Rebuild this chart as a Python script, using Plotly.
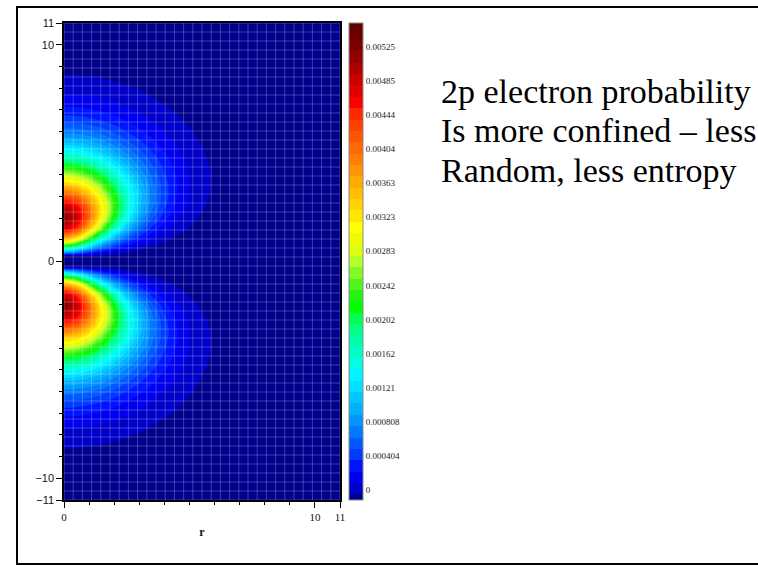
import numpy as np
import plotly.graph_objects as go

# ---------------- data ----------------
# radial coordinate r (horizontal axis) and height z (vertical axis, upper half)
r_values = [0, 0.5, 1, 1.5, 2, 2.5, 3, 3.5, 4, 4.5, 5, 5.5, 6, 6.5, 7, 8, 11]
z_upper = [0, 0.25, 0.5, 1, 1.5, 2, 2.5, 3, 3.5, 4, 4.5, 5, 5.5, 6, 6.5,
           7, 7.5, 8, 8.5, 9, 9.5, 10, 11]
# probability density, units of 1e-5, one row per z (upper half, z >= 0)
density_upper_e5 = [
    [0, 0, 0, 0, 0, 0, 0, 0, 0, 0, 0, 0, 0, 0, 0, 0, 0],
    [8, 8, 8, 8, 7, 5, 3.1, 1.9, 1.1, 0.7, 0.4, 0.25, 0.15, 0.1, 0.05, 0, 0],
    [150.9, 122.7, 81.3, 51.2, 31.7, 19.4, 11.9, 7.3, 4.4, 2.7, 1.6, 1.0, 0.6, 0.4, 0.2, 0.1, 0],
    [366, 325, 242, 164, 106, 67.4, 42.1, 26.1, 16.1, 9.9, 6.1, 3.7, 2.3, 1.4, 0.8, 0.3, 0],
    [500, 461, 369, 268, 184, 121, 78.2, 49.7, 31.2, 19.5, 12.1, 7.5, 4.6, 2.8, 1.7, 0.7, 0],
    [538, 507, 425, 327, 235, 162, 108, 70.7, 45.5, 28.9, 18.2, 11.4, 7.1, 4.4, 2.7, 1.0, 0.1],
    [511, 486, 421, 337, 253, 181, 125, 84.3, 55.6, 36.1, 23.2, 14.8, 9.4, 5.9, 3.7, 1.4, 0.1],
    [446, 428, 379, 313, 243, 180, 129, 89.1, 60.3, 40.1, 26.3, 17.0, 10.9, 7.0, 4.4, 1.7, 0.1],
    [368, 355, 320, 271, 216, 165, 121, 86.4, 59.9, 40.7, 27.2, 18.0, 11.7, 7.6, 4.9, 2.0, 0.1],
    [292, 283, 258, 222, 182, 142, 107, 78.3, 55.6, 38.7, 26.4, 17.7, 11.8, 7.7, 5.0, 2.1, 0.1],
    [224, 218, 201, 176, 146, 117, 90.3, 67.4, 48.9, 34.7, 24.1, 16.5, 11.1, 7.4, 4.9, 2.1, 0.1],
    [168, 164, 152, 135, 114, 92.9, 73.0, 55.6, 41.2, 29.8, 21.1, 14.7, 10.1, 6.8, 4.6, 2.0, 0.1],
    [123, 120, 112, 101, 86.5, 71.6, 57.2, 44.4, 33.5, 24.7, 17.8, 12.6, 8.8, 6.0, 4.1, 1.8, 0.1],
    [88.8, 87.0, 81.7, 73.8, 64.2, 53.9, 43.7, 34.5, 26.4, 19.8, 14.5, 10.5, 7.4, 5.2, 3.5, 1.6, 0.1],
    [63.2, 62.0, 58.5, 53.3, 46.8, 39.7, 32.7, 26.2, 20.4, 15.5, 11.5, 8.4, 6.1, 4.3, 3.0, 1.4, 0.1],
    [44.5, 43.7, 41.4, 37.9, 33.6, 28.8, 24.0, 19.5, 15.4, 11.9, 9.0, 6.6, 4.8, 3.5, 2.4, 1.2, 0.1],
    [31.0, 30.4, 29.0, 26.7, 23.8, 20.6, 17.4, 14.2, 11.4, 8.9, 6.8, 5.1, 3.8, 2.7, 2.0, 1.0, 0.1],
    [21.4, 21.0, 20.1, 18.6, 16.7, 14.6, 12.4, 10.3, 8.3, 6.6, 5.1, 3.9, 2.9, 2.1, 1.5, 0.8, 0.1],
    [14.6, 14.4, 13.8, 12.8, 11.6, 10.2, 8.7, 7.3, 6.0, 4.8, 3.7, 2.9, 2.2, 1.6, 1.2, 0.6, 0.1],
    [9.9, 9.8, 9.4, 8.8, 8.0, 7.1, 6.1, 5.2, 4.3, 3.4, 2.7, 2.1, 1.6, 1.2, 0.9, 0.5, 0.1],
    [6.7, 6.6, 6.4, 6.0, 5.5, 4.9, 4.2, 3.6, 3.0, 2.4, 2.0, 1.5, 1.2, 0.9, 0.7, 0.4, 0.0],
    [4.5, 4.5, 4.3, 4.0, 3.7, 3.3, 2.9, 2.5, 2.1, 1.7, 1.4, 1.1, 0.9, 0.7, 0.5, 0.3, 0.0],
    [2.0, 2.0, 1.9, 1.8, 1.7, 1.5, 1.3, 1.2, 1.0, 0.8, 0.7, 0.6, 0.4, 0.3, 0.3, 0.2, 0.0],
]
# colour bar labels (one every third contour level)
cbar_labels = ["0", "0.000404", "0.000808", "0.00121", "0.00162", "0.00202",
               "0.00242", "0.00283", "0.00323", "0.00363", "0.00404",
               "0.00444", "0.00485", "0.00525"]
x_tick_vals = [0, 10, 11]
x_tick_text = ["0", "10", "11"]
y_tick_vals = [-11, -10, 0, 10, 11]
y_tick_text = ["\u221211", "\u221210", "0", "10", "11"]
note_lines = ["2p electron probability", "Is more confined \u2013 less",
              "Random, less entropy"]

# ---------------- assemble full (mirrored) field ----------------
z_full = [-v for v in reversed(z_upper[1:])] + z_upper
rows_full = list(reversed(density_upper_e5[1:])) + density_upper_e5
density = np.array(rows_full, dtype=float) * 1e-5

# ---------------- style ----------------
level_step = 0.000404 / 3.0
n_levels = 42          # contour levels drawn (colour bar shows 43 bands)
band_colors = [
    (0, 0, 140), (0, 0, 200), (0, 0, 238), (0, 20, 255), (0, 60, 255),
    (0, 90, 255), (0, 120, 255), (0, 150, 255), (0, 175, 255), (0, 200, 255),
    (0, 225, 255), (0, 245, 255), (0, 255, 230), (0, 255, 200), (0, 255, 170),
    (0, 255, 130), (0, 255, 80), (0, 255, 0), (40, 240, 20), (80, 245, 30),
    (130, 250, 40), (180, 255, 40), (220, 255, 20), (240, 250, 0), (255, 255, 0),
    (255, 230, 0), (255, 210, 0), (255, 190, 0), (255, 170, 0), (255, 150, 0),
    (255, 125, 0), (255, 105, 0), (255, 85, 0), (255, 65, 0), (255, 40, 0),
    (255, 0, 0), (225, 0, 0), (200, 0, 0), (175, 0, 0), (145, 0, 0),
    (125, 0, 0), (108, 0, 0), (92, 0, 0),
]
colorscale = [[k / n_levels, "rgb(%d,%d,%d)" % c] for k, c in enumerate(band_colors)]

W, H = 758, 566
L, T = 64, 23
R = W - 340
B = H - 500
pw, ph = W - L - R, H - T - B


def px_x(px):
    return (px - L) / pw


def px_y(py):
    return (H - B - py) / ph


fig = go.Figure()

fig.add_trace(go.Contour(
    x=r_values, y=z_full, z=density,
    colorscale=colorscale,
    contours=dict(start=level_step, end=n_levels * level_step, size=level_step,
                  coloring="fill", showlines=False),
    line=dict(width=0, smoothing=1.0),
    colorbar=dict(
        thickness=14, len=1.0, lenmode="fraction", y=0.5, yanchor="middle",
        x=px_x(349), xanchor="left", xpad=0, ypad=0,
        outlinewidth=1, outlinecolor="#8a8a8a",
        tickmode="array",
        tickvals=[(3 * k + 1.4) * level_step for k in range(len(cbar_labels))],
        ticktext=cbar_labels,
        ticks="", ticklen=2,
        tickfont=dict(family="Liberation Serif", size=9, color="#222"),
    ),
    hoverinfo="skip",
))

# faint mesh lines drawn over the field
gx = np.linspace(0, 11, 31)
gy = np.linspace(-11, 11, 54)
mx, my = [], []
for v in gx:
    mx += [v, v, None]
    my += [-11, 11, None]
for v in gy:
    mx += [0, 11, None]
    my += [v, v, None]
fig.add_trace(go.Scatter(x=mx, y=my, mode="lines",
                         line=dict(color="rgba(255,255,255,0.24)", width=1),
                         hoverinfo="skip", showlegend=False))

fig.update_xaxes(
    range=[0, 11], showgrid=False, zeroline=False,
    showline=True, linecolor="black", linewidth=1.5, mirror=True,
    tickmode="array", tickvals=x_tick_vals, ticktext=x_tick_text,
    ticks="outside", ticklen=6, tickcolor="black",
    minor=dict(tickmode="linear", tick0=0, dtick=1, ticks="outside",
               ticklen=3, tickcolor="black"),
    tickfont=dict(family="Liberation Serif", size=11, color="#111"),
    title=dict(text="<b>r</b>", font=dict(family="Liberation Serif", size=12,
                                        color="#111"), standoff=6),
)
fig.update_yaxes(
    range=[-11, 11], showgrid=False, zeroline=False,
    showline=True, linecolor="black", linewidth=1.5, mirror=True,
    tickmode="array", tickvals=y_tick_vals, ticktext=y_tick_text,
    ticks="outside", ticklen=6, tickcolor="black",
    minor=dict(tickmode="linear", tick0=0, dtick=1, ticks="outside",
               ticklen=3, tickcolor="black"),
    tickfont=dict(family="Liberation Sans", size=11, color="#111"),
)

annotations = []
for i, line in enumerate(note_lines):
    annotations.append(dict(
        xref="paper", yref="paper", x=px_x(439), y=px_y(92 + 39 * i),
        xanchor="left", yanchor="middle", showarrow=False, text=line,
        font=dict(family="Liberation Serif", size=34, color="black"),
    ))

fig.update_layout(
    width=W, height=H,
    margin=dict(l=L, r=R, t=T, b=B, pad=0),
    paper_bgcolor="white", plot_bgcolor="rgb(0,0,140)",
    showlegend=False,
    annotations=annotations,
    shapes=[dict(type="rect", xref="paper", yref="paper",
                 x0=px_x(17), x1=px_x(820), y0=px_y(564), y1=px_y(7),
                 line=dict(color="black", width=2), layer="above")],
)

# remove the default page margin so the figure sits at the window origin
fig.write_html(
    "out.html",
    config={"displayModeBar": False},
    post_script="document.body.style.margin='0';"
                "document.body.style.overflow='hidden';",
)
